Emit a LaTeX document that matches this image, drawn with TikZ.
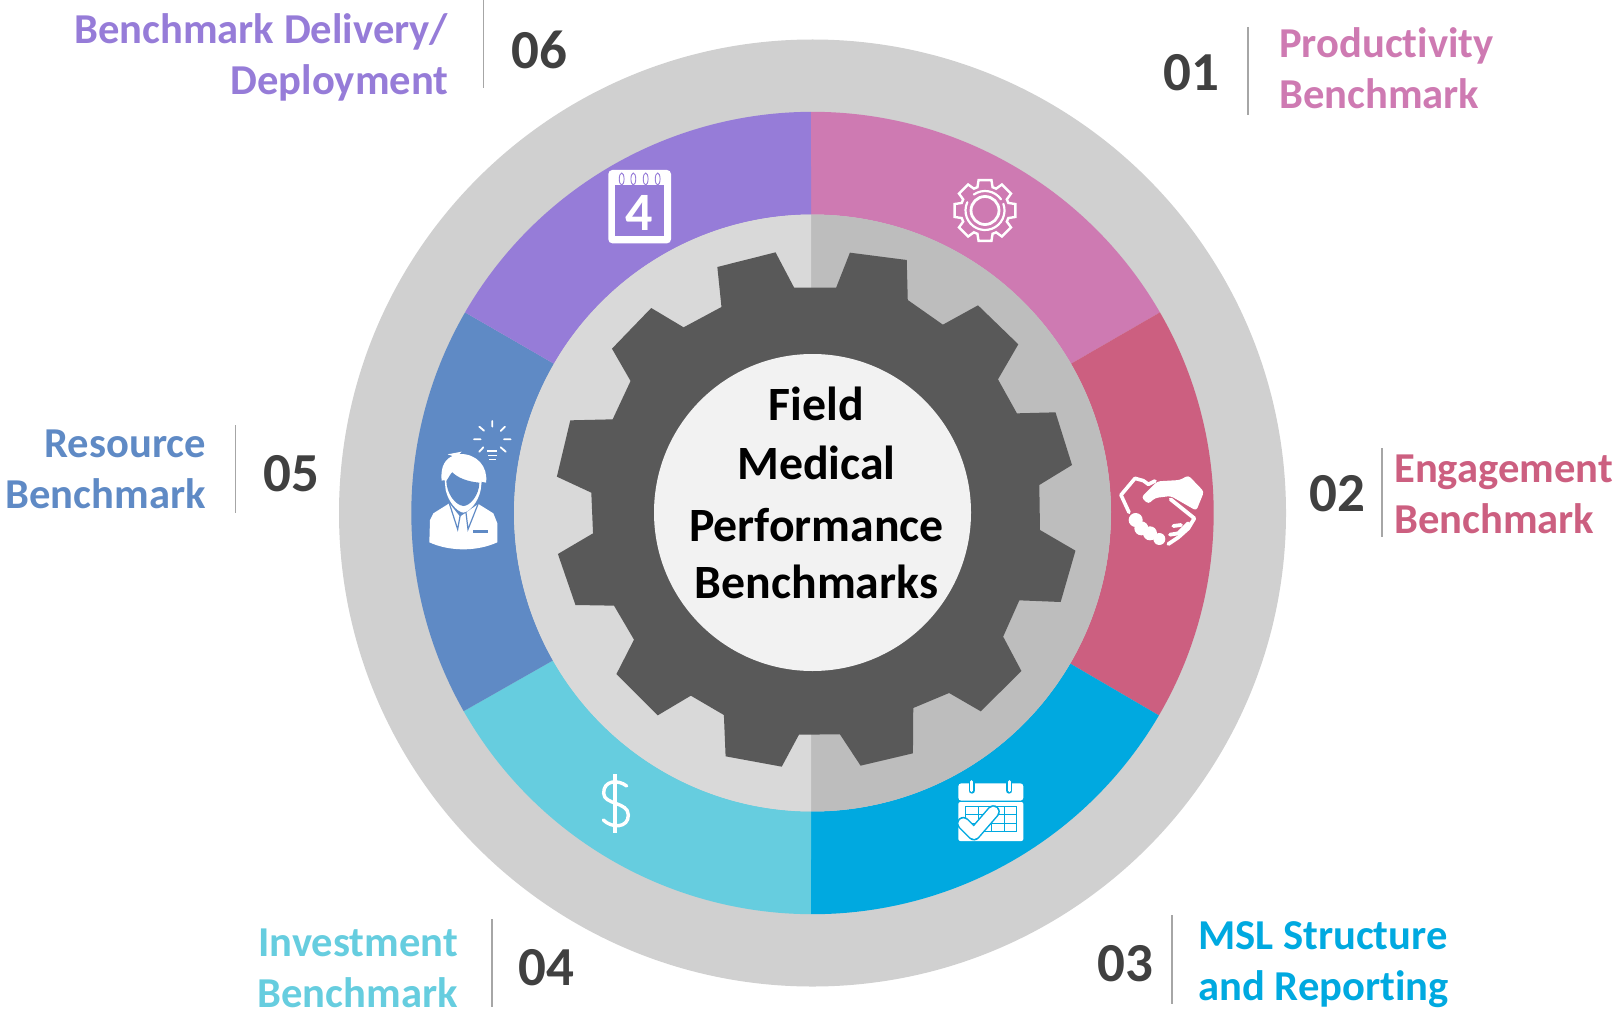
\documentclass[tikz,border=0pt]{standalone}
\usepackage{fontspec}
\setmainfont{Carlito}[Ligatures=NoCommon]
\definecolor{cOuter}{HTML}{D0D0D0}
\definecolor{cInL}{HTML}{D9D9D9}
\definecolor{cInR}{HTML}{BDBDBD}
\definecolor{cGear}{HTML}{595959}
\definecolor{cHub}{HTML}{F2F2F2}
\definecolor{cA}{HTML}{CE7AB2}
\definecolor{cB}{HTML}{CC5F80}
\definecolor{cC}{HTML}{00A9E0}
\definecolor{cD}{HTML}{66CDDF}
\definecolor{cE}{HTML}{5F8AC5}
\definecolor{cF}{HTML}{967CD8}
\definecolor{cNum}{HTML}{404040}
\definecolor{cSep}{HTML}{A6A6A6}
\tikzset{
  lab/.style={font=\fontsize{42.6}{51}\selectfont\bfseries,inner sep=0pt,text=#1},
  num/.style={font=\fontsize{55}{60}\selectfont\bfseries,inner sep=0pt,text=cNum},
  sep/.style={draw=cSep,line width=1.6pt},
  zoomed/.style={x=.33333pt,y=-.33333pt},
  ico/.style={draw=white,line width=#1,line cap=round,line join=round},
  ico/.default=2pt
}
\newcommand{\seg}[3]{\fill[#3] (#1:401.2pt) arc[start angle=#1,end angle=#2,radius=401.2pt] -- (#2:298.5pt) arc[start angle=#2,end angle=#1,radius=298.5pt] -- cycle;}
\begin{document}
\begin{tikzpicture}[x=1pt,y=-1pt]
\useasboundingbox (0,0) rectangle (1613,1019);
% rings
\begin{scope}[shift={(812.5,513)}]
\fill[cOuter] (0,0) circle[radius=473.5pt];
\seg{90.25}{30}{cA}
\seg{30}{-30.3}{cB}
\seg{-30.3}{-90.25}{cC}
\seg{-90.25}{-150.4}{cD}
\seg{209.6}{150}{cE}
\seg{150}{90.25}{cF}
\fill[cInR] (90.25:298.5pt) arc[start angle=90.25,end angle=-90.25,radius=298.5pt] -- cycle;
\fill[cInL] (90.25:298.5pt) arc[start angle=90.25,end angle=269.75,radius=298.5pt] -- cycle;
\end{scope}
% gear
\begin{scope}[shift={(540,230)},x=.34435pt,y=-.33333pt]
\fill[cGear] (738,173)--(860,173)--(900,68)--(1065,90)--(1068,210)--(1170,284)--(1272,226)--(1389,343)--(1330,448)--(1385,550)--(1497,547)--(1545,705)--(1450,765)
--(1452,900)--(1555,962)--(1512,1116)--(1392,1111)--(1345,1220)--(1398,1323)--(1280,1444)--(1188,1389)--(1084,1434)--(1083,1570)--(931,1607)--(871,1513)--(752,1514)--(702,1610)--(539,1579)--(534,1455)--(438,1397)--(342,1456)--(222,1332)--(273,1229)--(215,1127)--(103,1125)--(52,972)--(154,910)
--(149,788)--(49,740)--(88,571)--(211,568)--(263,453)--(209,356)--(323,234)--(417,292)--(527,231)--(515,111)--(684,67)--cycle;
\end{scope}
\fill[cHub] (812.5,512.5) circle[radius=158.5pt];
\node[font=\fontsize{47.8}{58}\selectfont\bfseries,align=center,inner sep=0pt,text=black] (hub) at (816.5,493) {Field\\[.7pt]Medical\\[4.5pt]Performance\\[-1.3pt]Benchmarks};
% labels
\node[num] (n1) at (1191,73) {01};
\draw[sep] (1248,27) -- (1248,115);
\node[lab=cA,anchor=west,align=left] (l1) at (1279,68) {Productivity\\Benchmark};
\node[num] (n2) at (1337,494) {02};
\draw[sep] (1382,448) -- (1382,537);
\node[lab=cB,anchor=west,align=left] (l2) at (1394,494) {Engagement\\Benchmark};
\node[num] (n3) at (1125,964) {03};
\draw[sep] (1172,915) -- (1172,1004);
\node[lab=cC,anchor=west,align=left] (l3) at (1198,964.5) {MSL Structure\\and Reporting};
\node[num] (n4) at (546,968) {04};
\draw[sep] (492,919) -- (492,1007);
\node[lab=cD,anchor=east,align=right] (l4) at (458,968) {Investment\\Benchmark};
\node[num] (n5) at (291,474) {05};
\draw[sep] (235.5,425) -- (235.5,513);
\node[lab=cE,anchor=east,align=right] (l5) at (206,469.5) {Resource\\Benchmark};
\node[num] (n6) at (539,50) {06};
\draw[sep] (483.5,0) -- (483.5,88);
\node[lab=cF,anchor=east,align=right] (l6) at (448.5,57) {Benchmark Delivery/\\Deployment};
% icon 01: gear
\begin{scope}[shift={(985,210.5)}]
\draw[ico=2.4pt,line join=miter] (-12:31pt) \foreach \a in {0,45,...,315} {
  -- ({\a-12}:31pt) -- ({\a+12}:31pt) -- ({\a+18}:24.5pt) -- ({\a+27}:24.5pt)} -- cycle;
\draw[ico=2.8pt] (0,0) circle[radius=14pt];
\draw[ico=2.2pt] (20:19.5pt) arc[start angle=20,end angle=-205,radius=19.5pt];
\draw[ico=2.2pt] (35:19.5pt) arc[start angle=35,end angle=125,radius=19.5pt];
\fill[white] (42:19.5pt) circle[radius=1.3pt] (222:19.5pt) circle[radius=1.3pt];
\end{scope}
% icon 02: handshake
\begin{scope}[shift={(1080,440)},zoomed]
\draw[ico=3.6pt] (147,217) -- (123,165) -- (165,115) -- (190,122) -- (205,133) -- (225,123);
\fill[white,rounded corners=3pt] (184,172) -- (232,124) -- (300,120) -- (325,106) -- (372,155) -- (349,212) -- (272,168) -- (225,174) -- (205,192) -- cycle;
\fill[white] (167,240) circle[radius=7pt] (184,265) circle[radius=7pt] (210,280) circle[radius=7pt] (238,297) circle[radius=6pt];
\draw[ico=3.8pt] (272,178) -- (343,235) -- (325,265) -- (295,292) -- (265,312);
\draw[ico=3.8pt] (270,284) -- (295,280) -- (325,250);
\draw[ico=3.8pt] (280,258) -- (303,255);
\end{scope}
% icon 03: calendar with check
\begin{scope}[shift={(920,760)},zoomed]
\fill[white,rounded corners=3pt] (115,70) rectangle (310,122);
\fill[white,rounded corners=2pt] (115,126) rectangle (310,243);
\draw[cC,line width=6pt,line cap=round] (155,68) -- (155,92) (268,68) -- (268,92);
\draw[white,line width=3pt,line cap=round] (155,65) -- (155,92) (268,65) -- (268,92);
\draw[cC,line width=1pt] (135,140) rectangle (290,215) (135,163) -- (290,163) (135,190) -- (290,190) (175,140) -- (175,215) (215,140) -- (215,215) (252,140) -- (252,215);
\draw[cC,line width=13pt,line join=round,line cap=round] (130,190) -- (162,222) -- (220,155);
\draw[white,line width=10pt,line join=round,line cap=round] (130,190) -- (162,222) -- (220,155);
\end{scope}
% icon 04: dollar
\begin{scope}[shift={(570,750)},zoomed]
\draw[white,line width=3.4pt] (135,72) -- (135,250);
\draw[white,line width=3.4pt,line cap=round] (170,108) .. controls (145,88) and (100,90) .. (101,130) .. controls (102,165) and (175,155) .. (175,195) .. controls (175,235) and (125,235) .. (100,210);
\end{scope}
% icon 05: person
\begin{scope}[shift={(410,410)},zoomed]
\fill[white] (58,397) -- (60,330) -- (70,310) -- (118,280) -- (150,320) -- (205,282) -- (250,310) -- (262,340) -- (262,397) .. controls (200,425) and (120,425) .. (58,397) -- cycle;
\draw[cE,line width=1.2pt] (118,280) -- (143,358) -- (152,308) -- (168,308) -- (174,358) -- (205,280);
\fill[cE] (190,360) rectangle (235,368);
\fill[white] (95,212) .. controls (90,165) and (110,145) .. (128,138) -- (113,133) -- (155,125) -- (148,132) .. controls (200,130) and (235,170) .. (228,218) -- (215,215) -- (212,240) .. controls (205,275) and (180,305) .. (160,308) .. controls (140,305) and (115,275) .. (107,240) -- (104,210) -- cycle;
\fill[cE] (109,213) .. controls (118,200) and (122,190) .. (127,187) .. controls (145,205) and (175,215) .. (208,218) .. controls (208,255) and (180,288) .. (160,288) .. controls (135,285) and (110,250) .. (109,213) -- cycle;
\draw[ico=1.8pt] (247,33) -- (247,50) (285,50) -- (272,63) (302,88) -- (282,88) (287,125) -- (272,112) (208,125) -- (220,112) (192,88) -- (212,88) (208,50) -- (222,62);
\draw[white,line width=2pt] (232,124) -- (262,124);
\draw[white,line width=1.6pt] (234,136) -- (260,136) (237,148) -- (257,148);
\end{scope}
% icon 06: calendar 4
\begin{scope}[shift={(590,155)},zoomed]
\fill[white,rounded corners=4pt] (55,45) rectangle (243,265);
\fill[cF] (75,90) rectangle (222,243);
\foreach \p in {95,130,167,203}{
  \filldraw[fill=white,draw=cF,line width=.9pt] (\p,72) ellipse[x radius=2.4pt,y radius=6pt];
}
\node[font=\fontsize{54}{54}\selectfont\bfseries,text=white,inner sep=0pt] (four) at (148,174) {4};
\end{scope}
\end{tikzpicture}
\end{document}
